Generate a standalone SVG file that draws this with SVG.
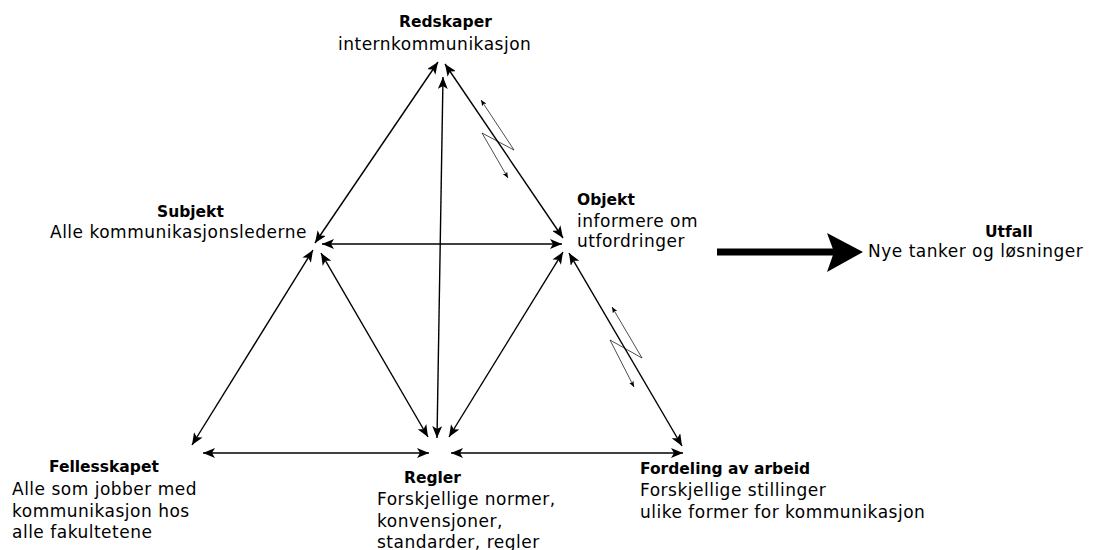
<svg xmlns="http://www.w3.org/2000/svg" width="1095" height="550" viewBox="0 0 1095 550">
<defs>
<style>
.t{font-family:"DejaVu Sans","Liberation Sans",sans-serif;font-weight:bold;font-size:15.5px;fill:#000}
.b{font-family:"DejaVu Sans","Liberation Sans",sans-serif;font-size:17px;fill:#000;letter-spacing:0.5px}
.c{fill:none;stroke:#000;stroke-width:1.4}
.z{fill:none;stroke:#000;stroke-width:0.7}
</style>
<marker id="ah" viewBox="0 0 12 10" refX="12" refY="5" markerWidth="12" markerHeight="10" markerUnits="userSpaceOnUse" orient="auto-start-reverse">
<path d="M0,0 L12,5 L0,10 L3,5 Z" fill="#000"/>
</marker>
<marker id="sh" viewBox="0 0 6 5" refX="6" refY="2.5" markerWidth="6" markerHeight="5" markerUnits="userSpaceOnUse" orient="auto-start-reverse">
<path d="M0,0 L6,2.5 L0,5 L1.5,2.5 Z" fill="#000"/>
</marker>
</defs>
<rect width="1095" height="550" fill="#fff"/>
<g id="connectors">
<line class="c" x1="438" y1="62" x2="315" y2="243" marker-start="url(#ah)" marker-end="url(#ah)"/>
<line class="c" x1="445" y1="64" x2="563" y2="238" marker-start="url(#ah)" marker-end="url(#ah)"/>
<line class="c" x1="443" y1="77" x2="437" y2="438" marker-start="url(#ah)" marker-end="url(#ah)"/>
<line class="c" x1="322" y1="244" x2="562" y2="244" marker-start="url(#ah)" marker-end="url(#ah)"/>
<line class="c" x1="313" y1="250" x2="192" y2="445" marker-start="url(#ah)" marker-end="url(#ah)"/>
<line class="c" x1="321" y1="253" x2="428" y2="437" marker-start="url(#ah)" marker-end="url(#ah)"/>
<line class="c" x1="563" y1="252" x2="449" y2="437" marker-start="url(#ah)" marker-end="url(#ah)"/>
<line class="c" x1="569" y1="253" x2="682" y2="446" marker-start="url(#ah)" marker-end="url(#ah)"/>
<line class="c" x1="203" y1="453" x2="429" y2="453" marker-start="url(#ah)" marker-end="url(#ah)"/>
<line class="c" x1="451" y1="453" x2="683" y2="453" marker-start="url(#ah)" marker-end="url(#ah)"/>
<polyline class="z" points="481,100 514,150 482,133 508,178" marker-start="url(#sh)" marker-end="url(#sh)"/>
<polyline class="z" points="612,307 642,358 610,340 634,387" marker-start="url(#sh)" marker-end="url(#sh)"/>
<rect x="717" y="248.5" width="117" height="7" fill="#000"/>
<path d="M827,233 L863,252 L827,272 L834,252 Z" fill="#000"/>
</g>
<g id="redskaper">
<text class="t" x="399" y="27">Redskaper</text>
<text class="b" x="338" y="50">internkommunikasjon</text>
</g>
<g id="subjekt">
<text class="t" x="157" y="217">Subjekt</text>
<text class="b" x="50" y="238">Alle kommunikasjonslederne</text>
</g>
<g id="objekt">
<text class="t" x="577" y="205">Objekt</text>
<text class="b" x="577" y="227">informere om</text>
<text class="b" x="577" y="247">utfordringer</text>
</g>
<g id="utfall">
<text class="t" x="985" y="237">Utfall</text>
<text class="b" x="868" y="257">Nye tanker og løsninger</text>
</g>
<g id="fellesskapet">
<text class="t" x="49" y="472">Fellesskapet</text>
<text class="b" x="12" y="495">Alle som jobber med</text>
<text class="b" x="12" y="517">kommunikasjon hos</text>
<text class="b" x="12" y="538">alle fakultetene</text>
</g>
<g id="regler">
<text class="t" x="404" y="483">Regler</text>
<text class="b" x="377" y="505">Forskjellige normer,</text>
<text class="b" x="377" y="527">konvensjoner,</text>
<text class="b" x="377" y="548">standarder, regler</text>
</g>
<g id="fordeling">
<text class="t" x="640" y="474">Fordeling av arbeid</text>
<text class="b" x="640" y="496">Forskjellige stillinger</text>
<text class="b" x="640" y="518">ulike former for kommunikasjon</text>
</g>
</svg>
